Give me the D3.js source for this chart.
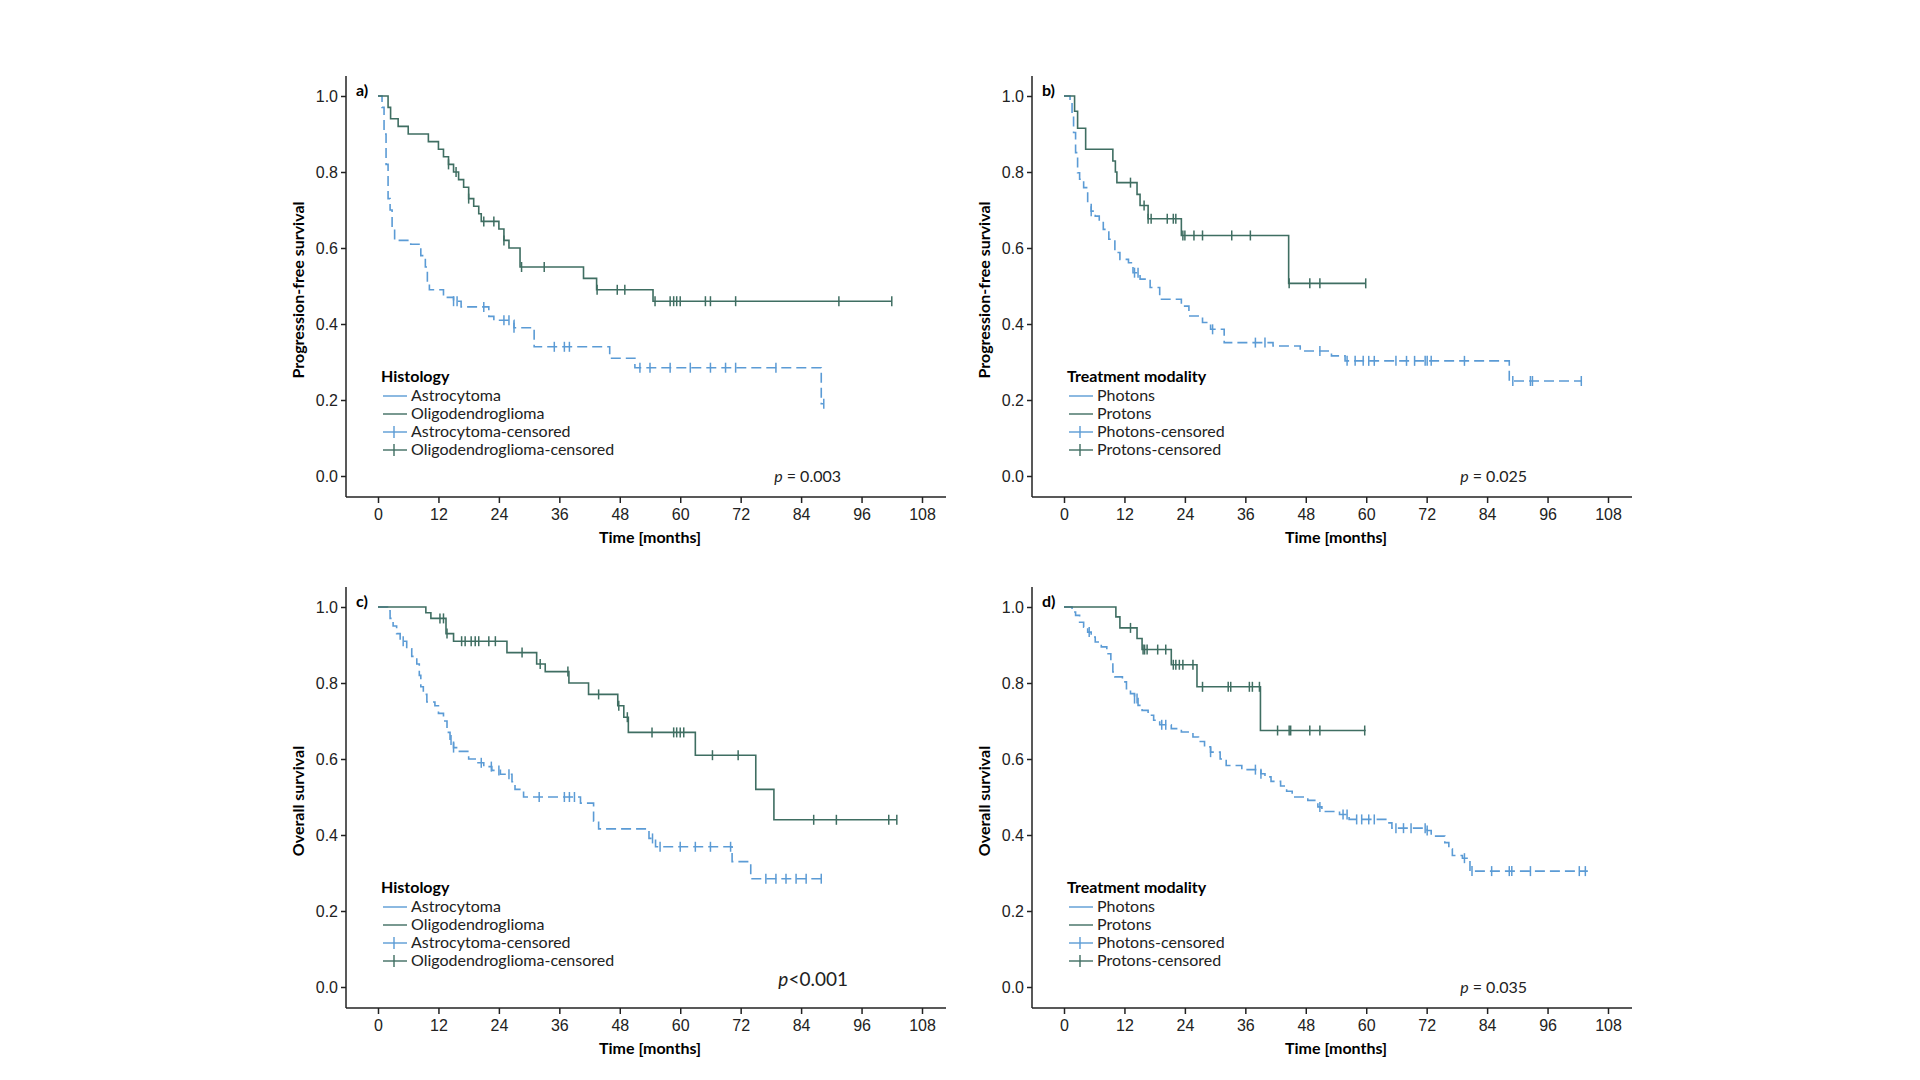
<!DOCTYPE html>
<html>
<head>
<meta charset="utf-8">
<script src="https://cdn.jsdelivr.net/npm/d3@7"></script>
<style>
  body { margin: 0; background: #fff; }
  svg { font-family: Lato, "Open Sans", sans-serif; }
  .tick text { font-size: 16px; fill: #222; }
  .domain, .tick line { stroke: #222; stroke-width: 1.5; }
</style>
</head>
<body>
<div id="chart"></div>
<script>
// ---- data (months / survival) ----
const monthTicks = [0, 12, 24, 36, 48, 60, 72, 84, 96, 108];
const survTicks = [0, 0.2, 0.4, 0.6, 0.8, 1.0];

// a) PFS by histology
const aAstroT = [0.8, 1.2, 1.6, 2.0, 2.4, 2.8, 3.3, 6.5, 8.5, 9.4, 9.8, 10.2, 13, 15, 16.5, 22, 23, 27, 31, 46, 51, 88];
const aAstroS = [0.97, 0.9, 0.82, 0.73, 0.7, 0.65, 0.62, 0.61, 0.58, 0.55, 0.51, 0.49, 0.47, 0.46, 0.445, 0.42, 0.41, 0.39, 0.34, 0.31, 0.285, 0.19];
const aAstroEnd = 88.5;
const aAstroC = [15, 15.7, 21, 25, 26, 27, 35, 37, 38, 52, 54, 58, 62, 66, 69, 71, 79, 88.5];
const aOligoT = [2, 2.5, 4, 6, 10, 12, 13, 14, 15, 16, 17, 18, 19, 20, 20.5, 24, 25, 26, 28.2, 40.8, 43.4, 54.6];
const aOligoS = [0.97, 0.94, 0.92, 0.9, 0.88, 0.86, 0.84, 0.82, 0.8, 0.78, 0.76, 0.73, 0.71, 0.69, 0.67, 0.65, 0.62, 0.6, 0.55, 0.52, 0.49, 0.46];
const aOligoEnd = 102;
const aOligoC = [14, 15.5, 18, 21, 23, 25, 28.5, 33, 43.5, 47.5, 49, 55, 58, 58.7, 59.3, 60, 65, 66, 71, 91.5, 102];

// b) PFS by treatment modality
const bPhotT = [1.2, 1.6, 1.9, 2.3, 2.7, 3.1, 3.9, 4.7, 5.4, 6.2, 7, 7.8, 8.9, 10.1, 11.1, 12.8, 13.7, 15.1, 17.1, 19, 23.3, 24.8, 27.5, 29.1, 31.8, 41.5, 46.9, 53.1, 55.8, 88.4];
const bPhotS = [0.982, 0.947, 0.904, 0.851, 0.798, 0.781, 0.759, 0.719, 0.697, 0.684, 0.667, 0.649, 0.623, 0.588, 0.57, 0.561, 0.535, 0.518, 0.496, 0.465, 0.447, 0.421, 0.404, 0.386, 0.351, 0.342, 0.329, 0.316, 0.303, 0.25];
const bPhotEnd = 102.7;
const bPhotC = [5.4, 14, 14.7, 29.5, 38, 39.9, 50.8, 56.2, 57.8, 59.4, 60.5, 61.6, 65.9, 68, 69.6, 71.7, 72.1, 72.9, 79.5, 89.1, 92.6, 93, 102.7];
const bProtT = [2.1, 2.7, 4.3, 9.7, 10.2, 10.5, 14.5, 15.1, 16.7, 23.3, 44.6];
const bProtS = [0.96, 0.915, 0.86, 0.829, 0.8, 0.772, 0.741, 0.712, 0.677, 0.633, 0.507];
const bProtEnd = 59.9;
const bProtC = [13.2, 15.9, 16.7, 17.3, 20.5, 21.7, 22.2, 23.6, 24, 25.8, 27.5, 33.3, 37, 44.7, 48.8, 50.8, 59.9];

// c) OS by histology
const cAstroT = [1.9, 2.4, 3, 3.7, 4.4, 5.7, 6.7, 7.7, 8.2, 8.5, 9, 9.7, 11.3, 12, 13, 13.7, 14.3, 15, 15.6, 18, 19.6, 21, 22.6, 24.3, 26.6, 27.2, 28.9, 40.2, 42.8, 43.8, 53.8, 55.1, 70.3, 74];
const cAstroS = [0.99, 0.97, 0.95, 0.93, 0.91, 0.89, 0.87, 0.85, 0.82, 0.79, 0.77, 0.75, 0.74, 0.72, 0.70, 0.67, 0.65, 0.63, 0.62, 0.60, 0.59, 0.58, 0.57, 0.56, 0.54, 0.52, 0.50, 0.484, 0.436, 0.416, 0.391, 0.369, 0.33, 0.285];
const cAstroEnd = 88;
const cAstroC = [5, 14.5, 15, 20.5, 22.5, 24, 26, 32, 37, 38, 39, 54.5, 56, 60, 63, 66, 70, 77, 79, 81, 83, 85, 88];
const cOligoT = [9.5, 10.5, 13.5, 15, 25.6, 31.5, 33.2, 37.9, 41.8, 47.6, 48.8, 49.7, 63, 75, 78.6];
const cOligoS = [0.985, 0.97, 0.93, 0.91, 0.88, 0.85, 0.83, 0.8, 0.77, 0.74, 0.71, 0.67, 0.61, 0.52, 0.44];
const cOligoEnd = 103;
const cOligoC = [12.3, 13, 13.7, 16.6, 17.3, 18.5, 19.3, 20, 22, 23.3, 28.6, 32.2, 37.7, 43.8, 47.8, 49.5, 54.4, 58.7, 59.3, 60, 60.7, 66.4, 71.5, 86.5, 91, 101.4, 103];

// d) OS by treatment modality
const dPhotT = [1.6, 2.3, 3.1, 3.9, 4.7, 5.4, 6.2, 7.4, 8.5, 9.3, 9.7, 10.1, 11.6, 12.4, 13.2, 14, 14.7, 15.5, 16.7, 17.8, 19, 21.3, 23.3, 25.6, 26.7, 27.9, 29.1, 31, 32.2, 35.3, 39.1, 39.9, 41.1, 43, 44.2, 45.3, 48.4, 50.4, 51.2, 54.7, 56.6, 64.3, 65.1, 72.1, 72.9, 75.6, 76.4, 77.1, 79.1, 80.6];
const dPhotS = [0.987, 0.978, 0.96, 0.947, 0.934, 0.921, 0.908, 0.895, 0.877, 0.855, 0.829, 0.816, 0.803, 0.785, 0.772, 0.759, 0.741, 0.728, 0.715, 0.702, 0.69, 0.68, 0.671, 0.658, 0.646, 0.632, 0.618, 0.6, 0.583, 0.572, 0.561, 0.553, 0.541, 0.529, 0.515, 0.5, 0.491, 0.474, 0.462, 0.454, 0.441, 0.432, 0.418, 0.412, 0.397, 0.38, 0.364, 0.346, 0.339, 0.305];
const dPhotEnd = 104;
const dPhotC = [5, 14, 14.5, 19.4, 20.2, 29.1, 38, 39.1, 50.8, 55.4, 56.2, 58.1, 59.1, 60.5, 61.6, 65.9, 67.4, 68.9, 71.7, 72.1, 79.5, 81, 84.9, 88.4, 88.9, 92.6, 102.3, 103.5];
const dProtT = [10.3, 11.1, 14.5, 15.5, 21.3, 26.4, 39];
const dProtS = [0.974, 0.945, 0.917, 0.888, 0.848, 0.79, 0.675];
const dProtEnd = 59.9;
const dProtC = [13.2, 15.7, 16, 16.5, 18.6, 20.2, 21.7, 22.2, 22.9, 23.6, 25.6, 27.5, 32.6, 33.1, 36.8, 37.4, 38.8, 42.4, 44.7, 45, 48.8, 50.8, 59.7];

const blue = "#5b9bd5", green = "#3f6e62";

const panels = [
  { ox: 0, oy: 0, tag: "a)", ylab: "Progression-free survival", legTitle: "Histology",
    names: ["Astrocytoma", "Oligodendroglioma"], p: ["p", " = 0.003"], pBig: false,
    blue: [aAstroT, aAstroS, aAstroEnd, aAstroC], green: [aOligoT, aOligoS, aOligoEnd, aOligoC] },
  { ox: 686, oy: 0, tag: "b)", ylab: "Progression-free survival", legTitle: "Treatment modality",
    names: ["Photons", "Protons"], p: ["p", " = 0.025"], pBig: false,
    blue: [bPhotT, bPhotS, bPhotEnd, bPhotC], green: [bProtT, bProtS, bProtEnd, bProtC] },
  { ox: 0, oy: 511, tag: "c)", ylab: "Overall survival", legTitle: "Histology",
    names: ["Astrocytoma", "Oligodendroglioma"], p: ["p", "<0.001"], pBig: true,
    blue: [cAstroT, cAstroS, cAstroEnd, cAstroC], green: [cOligoT, cOligoS, cOligoEnd, cOligoC] },
  { ox: 686, oy: 511, tag: "d)", ylab: "Overall survival", legTitle: "Treatment modality",
    names: ["Photons", "Protons"], p: ["p", " = 0.035"], pBig: false,
    blue: [dPhotT, dPhotS, dPhotEnd, dPhotC], green: [dProtT, dProtS, dProtEnd, dProtC] }
];

const svg = d3.select("#chart").append("svg").attr("width", 1920).attr("height", 1080);

function stepAt(T, S, t) {
  let s = 1;
  for (let i = 0; i < T.length; i++) if (T[i] <= t) s = S[i];
  return s;
}

panels.forEach(p => {
  const g = svg.append("g").attr("transform", `translate(${p.ox},${p.oy})`);
  const x = d3.scaleLinear().domain([0, 108]).range([378, 922]);
  const y = d3.scaleLinear().domain([0, 1]).range([476, 96]);

  // axis frame lines
  g.append("line").attr("x1", 346).attr("x2", 346).attr("y1", 76).attr("y2", 497)
    .attr("stroke", "#222").attr("stroke-width", 1.5);
  g.append("line").attr("x1", 346).attr("x2", 946).attr("y1", 497).attr("y2", 497)
    .attr("stroke", "#222").attr("stroke-width", 1.5);

  const yAxis = g.append("g").attr("transform", "translate(346,0)")
    .call(d3.axisLeft(y).tickValues(survTicks).tickFormat(d3.format(".1f")).tickSize(5).tickSizeOuter(0));
  yAxis.select(".domain").remove();
  const xAxis = g.append("g").attr("transform", "translate(0,497)")
    .call(d3.axisBottom(x).tickValues(monthTicks).tickSize(6).tickSizeOuter(0));
  xAxis.select(".domain").remove();
  xAxis.selectAll(".tick text").attr("dy", "0.9em");

  g.append("text").attr("x", 650).attr("y", 543).attr("text-anchor", "middle")
    .attr("font-weight", "bold").attr("font-size", 16).text("Time [months]");
  g.append("text").attr("transform", "translate(304,290) rotate(-90)").attr("text-anchor", "middle")
    .attr("font-weight", "bold").attr("font-size", 16).text(p.ylab);
  g.append("text").attr("x", 356).attr("y", 96).attr("font-weight", "bold").attr("font-size", 16).text(p.tag);

  const drawCurve = ([T, S, end, C], color, dash) => {
    let d = `M${x(0)},${y(1)}`;
    T.forEach((t, i) => { d += `H${x(t)}V${y(S[i])}`; });
    d += `H${x(end)}`;
    g.append("path").attr("d", d).attr("fill", "none").attr("stroke", color)
      .attr("stroke-width", 1.6).attr("stroke-dasharray", dash);
    g.selectAll(null).data(C).enter().append("line")
      .attr("x1", t => x(t)).attr("x2", t => x(t))
      .attr("y1", t => y(stepAt(T, S, t)) - 5).attr("y2", t => y(stepAt(T, S, t)) + 5)
      .attr("stroke", color).attr("stroke-width", 1.5);
  };
  drawCurve(p.blue, blue, "10,5");
  drawCurve(p.green, green, null);

  // legend
  const lg = g.append("g").attr("transform", "translate(380,0)");
  lg.append("text").attr("x", 1).attr("y", 382).attr("font-weight", "bold").attr("font-size", 16).text(p.legTitle);
  const items = [
    [p.names[0], blue, false], [p.names[1], green, false],
    [p.names[0] + "-censored", blue, true], [p.names[1] + "-censored", green, true]
  ];
  items.forEach((it, i) => {
    const cy = 396 + i * 18;
    lg.append("line").attr("x1", 3).attr("x2", 27).attr("y1", cy).attr("y2", cy)
      .attr("stroke", it[1]).attr("stroke-width", 1.4);
    if (it[2]) lg.append("line").attr("x1", 14).attr("x2", 14).attr("y1", cy - 6).attr("y2", cy + 6)
      .attr("stroke", it[1]).attr("stroke-width", 1.4);
    lg.append("text").attr("x", 31).attr("y", cy + 5).attr("font-size", 16).attr("fill", "#222").text(it[0]);
  });

  const pt = g.append("text").attr("x", p.pBig ? 848 : 841).attr("y", p.pBig ? 475 : 482)
    .attr("text-anchor", "end").attr("font-size", p.pBig ? 19 : 16).attr("fill", "#222");
  pt.append("tspan").attr("font-style", "italic").text(p.p[0]);
  pt.append("tspan").text(p.p[1]);
});
</script>
</body>
</html>
